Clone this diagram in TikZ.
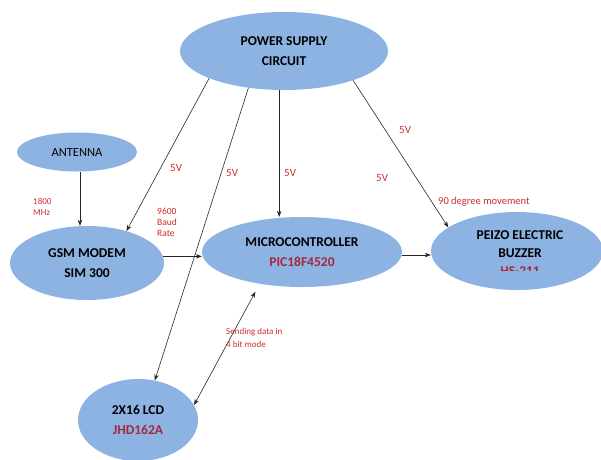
\documentclass[tikz,border=0pt]{standalone}
\usepackage{fontspec}
\setmainfont{Carlito}
\usetikzlibrary{shapes.geometric,arrows.meta,calc}
\definecolor{ellblue}{RGB}{141,179,226}
\definecolor{lblred}{RGB}{205,45,45}
\definecolor{subred}{RGB}{165,40,60}
\tikzset{
  blob/.style={ellipse, fill=ellblue, draw=none, inner sep=0pt, align=center,
    font=\fontsize{13.5}{20}\selectfont\bfseries},
  arr/.style={draw=black!85, line width=0.6pt, -{Stealth[length=6pt,width=4.5pt]}},
  darr/.style={draw=black!85, line width=0.6pt, {Stealth[length=6pt,width=4.5pt]}-{Stealth[length=6pt,width=4.5pt]}},
  lbl/.style={text=lblred, anchor=west, align=left, inner sep=0pt},
}
\begin{document}
\begin{tikzpicture}[x=1pt,y=-1pt]
\useasboundingbox (0,0) rectangle (601,459);
% ellipses
\node[blob, minimum width=208pt, minimum height=78pt] (pwr) at (284,51) {POWER SUPPLY\\CIRCUIT};
\node[blob, minimum width=120pt, minimum height=39pt, font=\fontsize{12.5}{15}\selectfont] (ant) at (77,152) {ANTENNA};
\node[blob, minimum width=154pt, minimum height=74pt] (gsm) at (87,263) {GSM MODEM\\SIM 300};
\node[blob, minimum width=200pt, minimum height=70pt] (mcu) at (302,252) {MICROCONTROLLER\\\textcolor{subred}{PIC18F4520}};
\node[blob, minimum width=172pt, minimum height=78pt] (buz) at (517,251) {};
\node[font=\fontsize{13.5}{18}\selectfont\bfseries, align=center] (buzt) at (520,244) {PEIZO ELECTRIC\\BUZZER};
\begin{scope}
  \clip (470,262) rectangle (570,270.5);
  \node[font=\fontsize{13.5}{18}\selectfont\bfseries, text=subred, anchor=base] (hs) at (520,275) {HS-211};
\end{scope}
\node[blob, minimum width=120pt, minimum height=82pt] (lcd) at (138,420) {2X16 LCD\\\textcolor{subred}{JHD162A}};
% connectors
\draw[arr] ([xshift=3pt]ant.south) -- ([xshift=3pt]ant.south |- gsm.north);
\draw[arr] (pwr.200) -- (gsm.39);
\draw[arr] (pwr.226) -- (lcd.67);
\draw[arr] (pwr.263) -- (pwr.263 |- mcu.north);
\draw[arr] (pwr.337) -- (buz.161);
\draw[arr] (gsm.5) -- (gsm.5 -| mcu.west);
\path (mcu.east) ++(0,3) coordinate (me);
\draw[arr] (me) -- (me -| buz.west);
\draw[darr, shorten >=9pt] (lcd.15) -- (mcu.217);
% labels
\node[lbl, font=\fontsize{9}{11}\selectfont] (l1800) at (33,207) {1800\\MHz};
\node[lbl, font=\fontsize{9.5}{11}\selectfont] (lbaud) at (157,222) {9600\\Baud\\Rate};
\node[lbl, font=\fontsize{11}{13}\selectfont] (v1) at (170,168) {5V};
\node[lbl, font=\fontsize{11}{13}\selectfont] (v2) at (226,173) {5V};
\node[lbl, font=\fontsize{11}{13}\selectfont] (v3) at (284,173) {5V};
\node[lbl, font=\fontsize{11}{13}\selectfont] (v4) at (376,178) {5V};
\node[lbl, font=\fontsize{11}{13}\selectfont] (v5) at (399,130) {5V};
\node[lbl, font=\fontsize{10.5}{12}\selectfont, fill=white, inner sep=1pt] (l90) at (437,202) {90 degree movement};
\node[lbl, font=\fontsize{9}{13}\selectfont] (lsend) at (226,338) {Sending data in\\4 bit mode};
\end{tikzpicture}
\end{document}
